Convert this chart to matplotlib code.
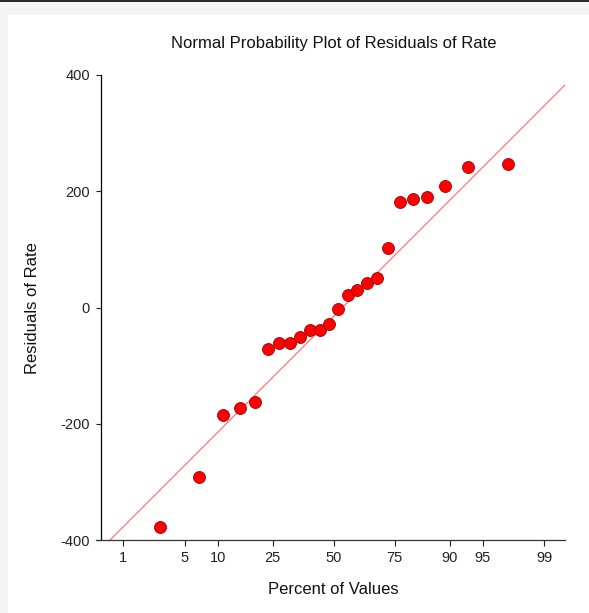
import matplotlib
matplotlib.use("Agg")
import matplotlib.pyplot as plt
from matplotlib.patches import Rectangle
from statistics import NormalDist

plt.rcParams['font.family'] = ['Liberation Sans', 'DejaVu Sans']

# sorted residuals of Rate
residuals = [-378.1, -291.1, -185.5, -173.4, -163.1, -70.9, -60.6, -60.6,
             -49.9, -38.7, -38.2, -27.9, -2.6, 22.0, 29.6, 42.1,
             51.3, 102.9, 181.0, 187.2, 190.6, 209.5, 242.2, 247.4]

# percent ticks on the normal probability axis
pct_ticks = [1, 5, 10, 25, 50, 75, 90, 95, 99]
y_ticks = [-400, -200, 0, 200, 400]

# reference line (value = intercept + slope * normal score)
line_intercept = -15.0
line_slope = 155.7

nd = NormalDist()
n = len(residuals)
# plotting positions (i - 1/3) / (n + 1/3)
zscores = [nd.inv_cdf((i - 1/3) / (n + 1/3)) for i in range(1, n + 1)]
tick_z = [nd.inv_cdf(p / 100) for p in pct_ticks]

W, H = 589, 613
fig = plt.figure(figsize=(W / 100, H / 100), dpi=100)
fig.patch.set_facecolor('white')

# grey frame of the window round the white panel
fig.add_artist(Rectangle((0, 0), 8 / W, 1, transform=fig.transFigure,
                         color='#f4f4f4', lw=0, zorder=0))
fig.add_artist(Rectangle((0, 1 - 15 / H), 1, 15 / H, transform=fig.transFigure,
                         color='#f4f4f4', lw=0, zorder=0))
fig.add_artist(Rectangle((0, 1 - 1.5 / H), 1, 1.5 / H, transform=fig.transFigure,
                         color='#2a2a2a', lw=0, zorder=1))

ax = fig.add_axes([96 / W, 1 - 540 / H, 469 / W, 465 / H])
ax.set_facecolor('none')

xmin, xmax = -2.628, 2.555
ax.plot([xmin, xmax],
        [line_intercept + line_slope * xmin, line_intercept + line_slope * xmax],
        color='#ff6666', lw=0.8, zorder=2)
ax.plot(zscores, residuals, 'o', ms=8.6, mfc='#ff0000', mec='#a00000',
        mew=0.6, zorder=3)

ax.set_xlim(xmin, xmax)
ax.set_ylim(-400, 400)

ax.set_xticks(tick_z)
ax.set_xticklabels([str(p) for p in pct_ticks])
ax.set_yticks(y_ticks)
ax.set_yticklabels([str(v) for v in y_ticks])

for s in ['top', 'right']:
    ax.spines[s].set_visible(False)
ax.spines['left'].set_position(('axes', 5 / 469))
ax.spines['left'].set_linewidth(0.9)
ax.spines['bottom'].set_linewidth(0.9)
ax.spines['bottom'].set_color('#333333')

ax.tick_params(axis='x', direction='out', length=4.3, width=0.8,
               pad=3.6, labelsize=10.5, colors='#222222')
ax.tick_params(axis='y', direction='out', length=3.6, width=0.8,
               pad=4.3, labelsize=10.5, colors='#222222')

fig.text(333.4 / W, 1 - 48.3 / H, 'Normal Probability Plot of Residuals of Rate',
         ha='center', va='baseline', fontsize=12, color='#111111')
fig.text(333.5 / W, 1 - 594 / H, 'Percent of Values',
         ha='center', va='baseline', fontsize=12, color='#111111')
fig.text(32.5 / W, 1 - 308 / H, 'Residuals of Rate', rotation=90,
         ha='center', va='center', fontsize=12, color='#111111')

plt.savefig('out.png', dpi=100)
